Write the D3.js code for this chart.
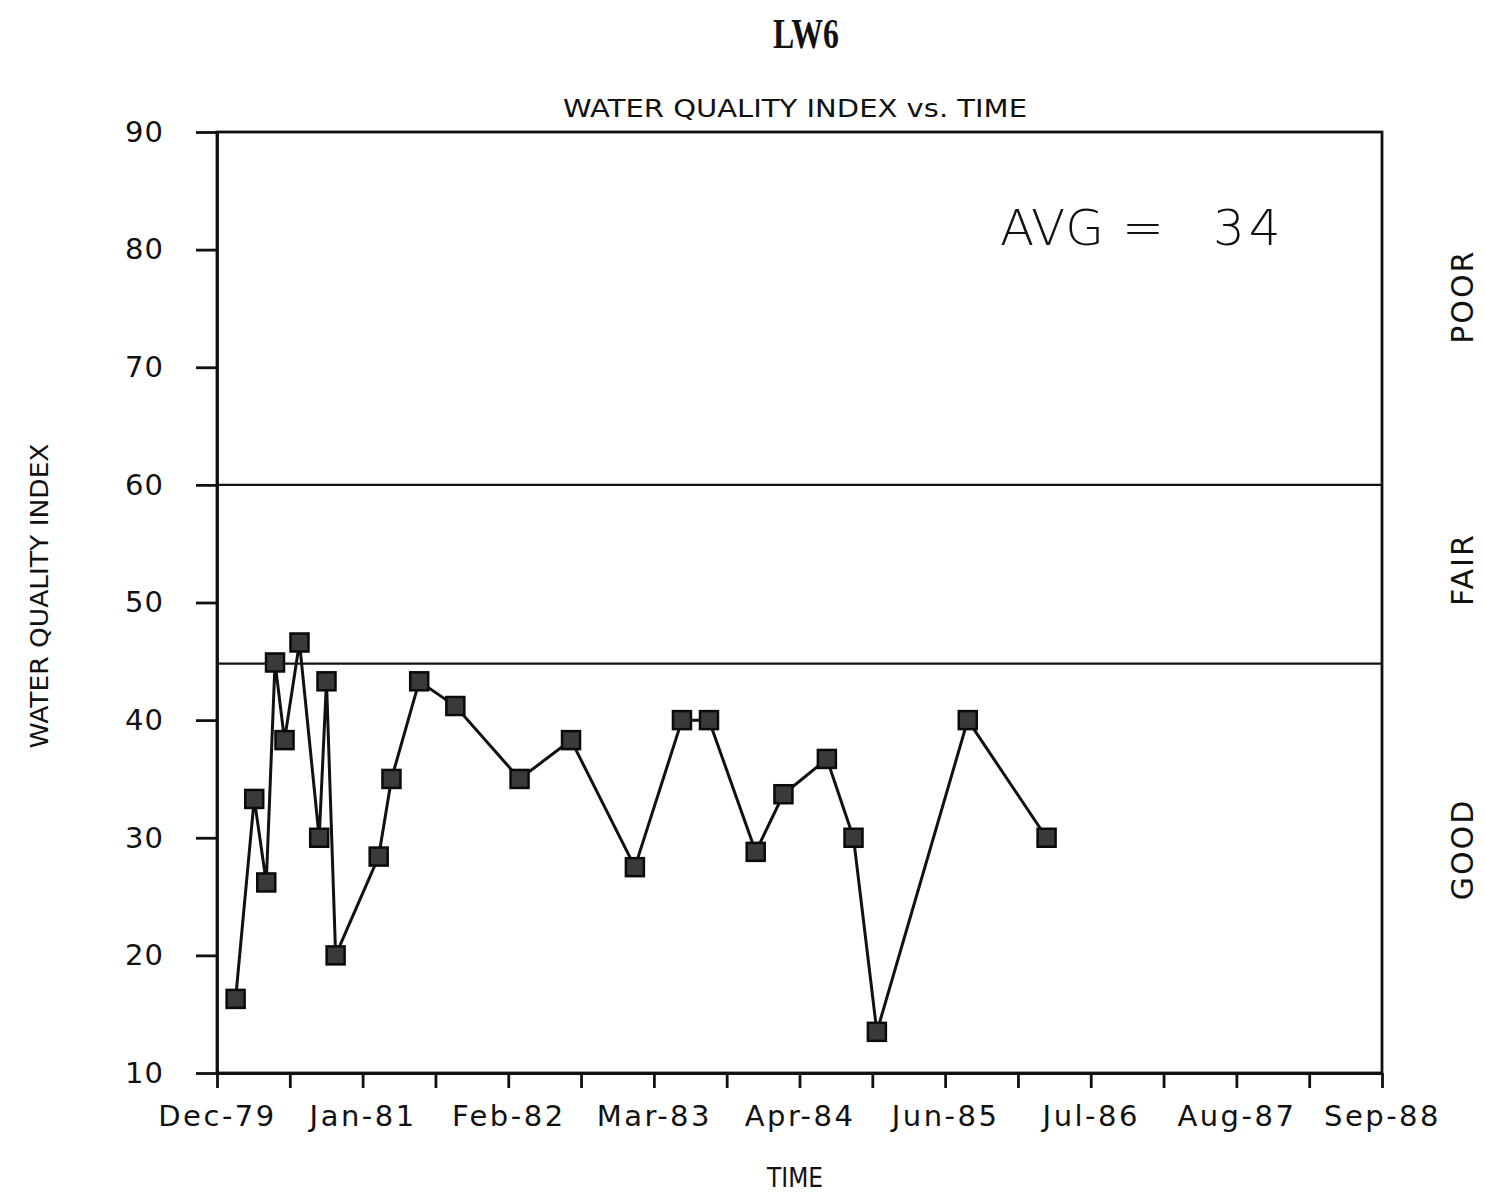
<!DOCTYPE html>
<html>
<head>
<meta charset="utf-8">
<script src="https://cdn.jsdelivr.net/npm/d3@7"></script>
<style>
  html, body { margin: 0; padding: 0; background: #fff; }
  svg { display: block; }
  text { fill: #111; font-family: "DejaVu Sans", "Liberation Sans", sans-serif; }
</style>
</head>
<body>
<figure id="wqi" style="margin:0"></figure>
<script>
// sample dates and index values (LW6)
const sampleDates = [
  "1980-02-05", "1980-03-27", "1980-04-29", "1980-05-23", "1980-06-18",
  "1980-07-29", "1980-09-21", "1980-10-11", "1980-11-05", "1981-03-03",
  "1981-04-07", "1981-06-22", "1981-09-29", "1982-03-24", "1982-08-12",
  "1983-02-03", "1983-06-12", "1983-08-25", "1983-12-31", "1984-03-16",
  "1984-07-13", "1984-09-24", "1984-11-27", "1985-08-03", "1986-03-07"
];
const wqiValues = [
  16.3, 33.3, 26.2, 44.9, 38.3,
  46.6, 30.0, 43.3, 20.0, 28.4,
  35.0, 43.3, 41.2, 35.0, 38.3,
  27.5, 40.0, 40.0, 28.8, 33.7,
  36.7, 30.0, 13.5, 40.0, 30.0
];
const xTickLabels = ["Dec-79", "Jan-81", "Feb-82", "Mar-83", "Apr-84", "Jun-85", "Jul-86", "Aug-87", "Sep-88"];
const yTicks = [10, 20, 30, 40, 50, 60, 70, 80, 90];
const classBreaks = [44.8, 60];
const classNames = ["GOOD", "FAIR", "POOR"];
const classLabelAt = [29, 52.8, 76];   // index value where each label is centred
const avgValue = 34;

const W = 1485, H = 1193;
const margin = { top: 132, right: 103, bottom: 120, left: 217 };
const width = W - margin.left - margin.right;
const height = H - margin.top - margin.bottom;

// axis starts mid Dec-79, ticks every ~199.5 days
const axisStart = new Date(1979, 11, 16);
const stepDays = 199.5;
const dayMs = 86400000;
const tickDates = d3.range(xTickLabels.length * 2 - 1)
  .map(i => new Date(axisStart.getTime() + i * stepDays * dayMs));

const parse = d3.timeParse("%Y-%m-%d");
const data = sampleDates.map((d, i) => ({ date: parse(d), value: wqiValues[i] }));

const svg = d3.select("figure#wqi")
  .append("svg")
  .attr("width", W)
  .attr("height", H);

const g = svg.append("g")
  .attr("transform", "translate(" + margin.left + "," + margin.top + ")");

const x = d3.scaleTime()
  .domain([tickDates[0], tickDates[tickDates.length - 1]])
  .range([0, width]);

const y = d3.scaleLinear()
  .domain([10, 90])
  .range([height, 0]);

// frame (top + right sides)
g.append("rect")
  .attr("x", 0).attr("y", 0)
  .attr("width", width).attr("height", height)
  .attr("fill", "none")
  .attr("stroke", "#111")
  .attr("stroke-width", 2.8);

// Y axis
const yAxis = g.append("g")
  .call(d3.axisLeft(y).tickValues(yTicks).tickSize(21).tickSizeOuter(0).tickPadding(32));
yAxis.selectAll("text")
  .style("font-size", "29px")
  .attr("letter-spacing", "1");
yAxis.selectAll("line, path").attr("stroke", "#111").attr("stroke-width", 2.8);

// X axis
const xAxis = g.append("g")
  .attr("transform", "translate(0," + height + ")")
  .call(d3.axisBottom(x)
    .tickValues(tickDates)
    .tickSize(15)
    .tickSizeOuter(0)
    .tickPadding(17)
    .tickFormat((d, i) => i % 2 === 0 ? xTickLabels[i / 2] : ""));
xAxis.selectAll("text")
  .style("font-size", "29px")
  .attr("letter-spacing", "2.5");
xAxis.selectAll("line, path").attr("stroke", "#111").attr("stroke-width", 2.8);

// class boundaries
g.selectAll(".brk")
  .data(classBreaks)
  .enter()
  .append("line")
  .attr("class", "brk")
  .attr("x1", 0).attr("x2", width)
  .attr("y1", d => y(d)).attr("y2", d => y(d))
  .attr("stroke", "#111")
  .attr("stroke-width", 2.4);

// data line
const line = d3.line()
  .x(d => x(d.date))
  .y(d => y(d.value));

g.append("path")
  .datum(data)
  .attr("fill", "none")
  .attr("stroke", "#111")
  .attr("stroke-width", 3)
  .attr("d", line);

// markers
const ms = 18;
g.selectAll(".pt")
  .data(data)
  .enter()
  .append("rect")
  .attr("class", "pt")
  .attr("x", d => x(d.date) - ms / 2)
  .attr("y", d => y(d.value) - ms / 2)
  .attr("width", ms)
  .attr("height", ms)
  .attr("fill", "#3a3a3a")
  .attr("stroke", "#0a0a0a")
  .attr("stroke-width", 2.5);

// class labels on the right
svg.selectAll(".cls")
  .data(classNames)
  .enter()
  .append("text")
  .attr("class", "cls")
  .attr("transform", (d, i) => "translate(1473," + (margin.top + y(classLabelAt[i])) + ") rotate(-90)")
  .attr("text-anchor", "middle")
  .style("font-size", "30px")
  .attr("letter-spacing", "2")
  .text(d => d);

// average
const avg = svg.append("text")
  .attr("y", 245)
  .style("font-size", "50px")
  .style("font-weight", "200");
avg.append("tspan").attr("x", 1000).text("AVG");
avg.append("tspan").attr("x", 1122).text("=");
avg.append("tspan").attr("x", 1213).attr("letter-spacing", "4").text(avgValue);

// titles
svg.append("text")
  .attr("x", 806)
  .attr("y", 48)
  .attr("text-anchor", "middle")
  .style("font-family", "'Liberation Serif', 'DejaVu Serif', serif")
  .style("font-weight", "bold")
  .style("font-size", "42px")
  .attr("textLength", 66)
  .attr("lengthAdjust", "spacingAndGlyphs")
  .text("LW6");

svg.append("text")
  .attr("x", 795)
  .attr("y", 117)
  .attr("text-anchor", "middle")
  .style("font-size", "25px")
  .attr("textLength", 464)
  .attr("lengthAdjust", "spacingAndGlyphs")
  .text("WATER QUALITY INDEX vs. TIME");

svg.append("text")
  .attr("x", 795)
  .attr("y", 1187)
  .attr("text-anchor", "middle")
  .style("font-size", "26px")
  .attr("textLength", 56)
  .attr("lengthAdjust", "spacingAndGlyphs")
  .text("TIME");

svg.append("text")
  .attr("transform", "translate(48,596) rotate(-90)")
  .attr("text-anchor", "middle")
  .style("font-size", "24px")
  .attr("textLength", 305)
  .attr("lengthAdjust", "spacingAndGlyphs")
  .text("WATER QUALITY INDEX");
</script>
</body>
</html>
